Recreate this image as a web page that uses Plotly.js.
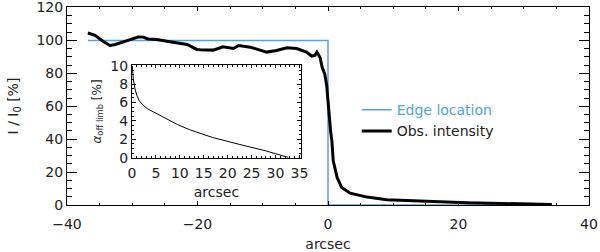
<!DOCTYPE html>
<html>
<head>
<meta charset="utf-8">
<script src="https://cdn.plot.ly/plotly-3.0.1.min.js"></script>
<style>html,body{margin:0;padding:0;background:#fff;}#plot{width:600px;height:252px;}</style>
</head>
<body>
<div id="plot"></div>
<script>
// Observed intensity (main panel)
const obsX = [-36.8,-35.7,-34.5,-33.4,-32.6,-31.4,-30.3,-29.1,-28.3,-27.6,-26.2,-24.7,-23.1,-21.6,-20.1,-19.6,-17.6,-16.1,-14.5,-13.9,-13.7,-11.9,-9.4,-7.9,-6.3,-4.8,-3.3,-2.5,-2.0,-1.7,-1.2,-0.9,-0.5,-0.2,0.0,0.4,0.6,0.8,1.4,2.1,3.4,6.0,9.0,11.0,16.1,21.3,26.4,34.3];
const obsY = [104.5,103.1,99.5,96.9,97.5,98.9,100.5,102.1,102.0,100.9,100.5,99.5,98.5,97.5,94.5,94.3,94.1,96.1,95.1,96.5,96.9,95.9,92.9,93.9,95.5,95.1,92.9,90.5,90.9,92.9,89.5,83.6,79.6,72.6,62.7,44.8,38.8,26.9,16.7,10.7,7.2,4.8,3.2,2.8,2.2,1.4,0.8,0.3];
// Edge location (step)
const edgeX = [-36.8, 0, 0, 34.3];
const edgeY = [100, 100, 0, 0];
// Inset: alpha off limb
const alphaX = [0.07,0.28,0.62,1.0,1.5,2.3,3.3,4.4,5.8,7.2,9.5,12.0,16.8,22.4,27.9,32.7];
const alphaY = [9.97,8.5,7.5,6.8,6.2,5.7,5.3,5.0,4.6,4.2,3.6,3.05,2.2,1.45,0.75,0.03];

const mainTicksX = [-40,-20,0,20,40];
const mainTicksY = [0,20,40,60,80,100,120];
const insetTicksX = [0,5,10,15,20,25,30,35];
const insetTicksY = [0,2,4,6,8,10];
const blue = '#4da6e0';
const font = {family:'DejaVu Sans, sans-serif', size:14, color:'#222'};

const traces = [
  {x:edgeX, y:edgeY, mode:'lines', line:{color:blue, width:1.5}, name:'<span style="color:'+blue+'">Edge location</span>', xaxis:'x', yaxis:'y'},
  {x:obsX, y:obsY, mode:'lines', line:{color:'#000', width:3}, name:'Obs. intensity', xaxis:'x', yaxis:'y'},
  {x:alphaX, y:alphaY, mode:'lines', line:{color:'#000', width:1}, showlegend:false, xaxis:'x2', yaxis:'y2'}
];

const layout = {
  width:600, height:252,
  margin:{l:67, r:11, t:7, b:47},
  paper_bgcolor:'#fff', plot_bgcolor:'#fff',
  font:font,
  showlegend:true,
  legend:{x:0.555, y:0.56, xanchor:'left', yanchor:'top', bgcolor:'rgba(0,0,0,0)', font:font, tracegroupgap:0, itemwidth:30},
  xaxis:{domain:[0,1], range:[-40,40], tickvals:mainTicksX, ticks:'inside', ticklen:4, tickcolor:'#000',
    showline:true, linecolor:'#000', linewidth:1, mirror:'ticks', showgrid:false, zeroline:false,
    minor:{dtick:5, ticks:'inside', ticklen:2, tickcolor:'#000'}, ticklabelstandoff:6, ticklabeloverflow:'allow',
    title:{text:'arcsec', font:font, standoff:8}, tickfont:font, automargin:false},
  yaxis:{domain:[0,1], range:[0,120.3], tickvals:mainTicksY, ticks:'inside', ticklen:10, tickcolor:'#000',
    showline:true, linecolor:'#000', linewidth:1, mirror:'ticks', showgrid:false, zeroline:false,
    minor:{dtick:5, ticks:'inside', ticklen:5, tickcolor:'#000'}, ticklabeloverflow:'allow',
    title:{text:'I / I<sub>0</sub> [%]', font:font, standoff:14}, tickfont:font, automargin:false},
  xaxis2:{domain:[0.1245,0.448], anchor:'y2', range:[0,35.3], tickvals:insetTicksX, ticktext:insetTicksX.map(String), ticks:'inside', ticklen:3, tickcolor:'#000',
    showline:true, linecolor:'#000', linewidth:1, mirror:'ticks', showgrid:false, zeroline:false,
    minor:{dtick:1, ticks:'inside', ticklen:2, tickcolor:'#000'}, ticklabelstandoff:3, ticklabeloverflow:'allow',
    title:{text:'arcsec', font:font, standoff:6}, tickfont:font, automargin:false},
  yaxis2:{domain:[0.239,0.706], anchor:'x2', range:[0,10.05], tickvals:insetTicksY, ticks:'inside', ticklen:4, tickcolor:'#000',
    showline:true, linecolor:'#000', linewidth:1, mirror:'ticks', showgrid:false, zeroline:false,
    minor:{dtick:0.5, ticks:'inside', ticklen:2, tickcolor:'#000'}, ticklabeloverflow:'allow',
    title:{text:'<i>α</i><sub>off limb</sub> [%]', font:{family:font.family, size:12, color:'#222'}, standoff:6}, tickfont:font, automargin:false}
};

Plotly.newPlot('plot', traces, layout, {displayModeBar:false, staticPlot:true});
</script>
</body>
</html>
